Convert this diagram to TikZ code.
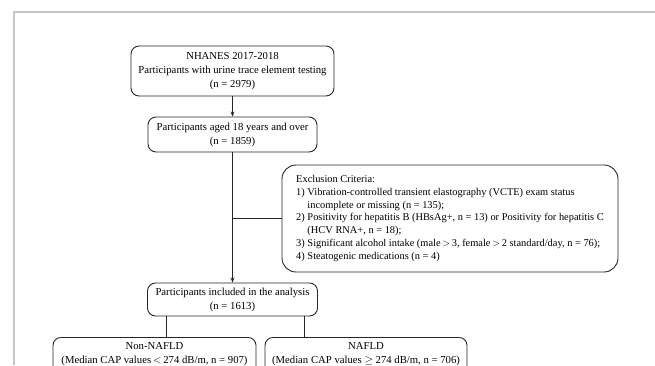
\documentclass[tikz,border=0pt]{standalone}
\usepackage{fontspec}
\setmainfont{Liberation Serif}
\usetikzlibrary{arrows.meta,calc}
\begin{document}
\begin{tikzpicture}[x=1pt,y=-1pt,
  box/.style={draw=black!85, line width=0.9pt, rounded corners=8pt, align=center,
    font=\fontsize{10.7}{14}\selectfont, inner xsep=3pt, inner ysep=4.5pt},
  exbox/.style={draw=black!85, line width=0.9pt, rounded corners=14pt, align=left,
    font=\fontsize{10.4}{12.8}\selectfont, inner xsep=6pt, inner ysep=6pt,
    minimum width=336pt, minimum height=107pt},
  conn/.style={draw=black!85, line width=0.8pt},
  arr/.style={conn, -{Stealth[length=5pt,width=4pt]}},
  frame/.style={draw=black!22, line width=1.6pt}]
\useasboundingbox (0,0) rectangle (655,365);
\clip (0,0) rectangle (655,365);
\draw[frame] (655,12) -- (14,12) -- (14,365);

\node[box, minimum width=203pt, minimum height=50pt] (b1) at (232.5,71)
  {NHANES 2017-2018\\Participants with urine trace element testing\\(n = 2979)};
\node[box, minimum width=169pt, minimum height=35pt] (b2) at (232.5,134.5)
  {Participants aged 18 years and over\\(n = 1859)};
\node[exbox] (ex) at (450,218.5)
  {Exclusion Criteria:\\
   1) Vibration-controlled transient elastography (VCTE) exam status\\
   \phantom{1) }incomplete or missing (n = 135);\\
   2) Positivity for hepatitis B (HBsAg+, n = 13) or Positivity for hepatitis C\\
   \phantom{2) }(HCV RNA+, n = 18);\\
   3) Significant alcohol intake (male{\,$>$\,}3, female{\,$>$\,}2 standard/day, n = 76);\\
   4) Steatogenic medications (n = 4)};
\node[box, minimum width=170pt, minimum height=33pt] (b3) at (232.5,299.5)
  {Participants included in the analysis\\(n = 1613)};
\node[box, anchor=north, minimum width=203pt, minimum height=60pt, text depth=28pt] (b4) at (154.5,337)
  {Non-NAFLD\\(Median CAP values{\,$<$\,}274 dB/m, n = 907)};
\node[box, anchor=north, minimum width=202pt, minimum height=60pt, text depth=28pt] (b5) at (366,337)
  {NAFLD\\(Median CAP values $\geq$ 274 dB/m, n = 706)};

\draw[arr] (b1.south) -- (b2.north);
\draw[arr] (b2.south) -- (b3.north);
\draw[conn] (b2.south |- ex.west) -- (ex.west);
\draw[conn] ($(b3.south west)+(19,0)$) coordinate (s4) -- (s4 |- b4.north);
\draw[conn] ($(b3.south east)+(-14,0)$) coordinate (s5) -- (s5 |- b5.north);
\end{tikzpicture}
\end{document}
